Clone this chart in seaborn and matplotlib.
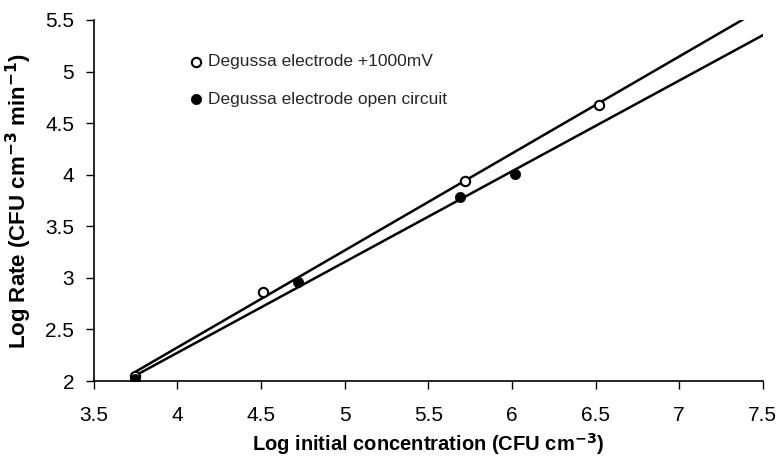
import numpy as np
import pandas as pd
import matplotlib
matplotlib.use("Agg")
import matplotlib.pyplot as plt
from matplotlib import font_manager
import seaborn as sns

# Data
x_open = [3.75, 4.51, 5.72, 6.52]
y_open = [2.05, 2.86, 3.94, 4.68]
x_filled = [3.75, 4.72, 5.69, 6.02]
y_filled = [2.02, 2.96, 3.78, 4.01]
label_open = "Degussa electrode +1000mV"
label_filled = "Degussa electrode open circuit"
x_ticks = [3.5, 4, 4.5, 5, 5.5, 6, 6.5, 7, 7.5]
y_ticks = [2, 2.5, 3, 3.5, 4, 4.5, 5, 5.5]

sns.set_theme(style="ticks")

# prefer a narrow sans if one is installed
names = {f.name for f in font_manager.fontManager.ttflist}
narrow = [n for n in ["Liberation Sans Narrow", "Arial Narrow", "DejaVu Sans Condensed"] if n in names]
fam = narrow + ['Liberation Sans', 'DejaVu Sans']
plt.rcParams['font.family'] = fam

df_open = pd.DataFrame({"x": x_open, "y": y_open})
df_filled = pd.DataFrame({"x": x_filled, "y": y_filled})

fig = plt.figure(figsize=(7.76, 4.63), dpi=100)
ax = fig.add_axes([0.1206, 0.177, 0.983 - 0.1206, 0.957 - 0.177])

# regression lines from the first point to the right edge
ax.set_xlim(min(x_open), 7.5)
sns.regplot(data=df_open, x="x", y="y", ax=ax, ci=None, scatter=False,
            truncate=False, line_kws=dict(color="black", lw=1.8))
sns.regplot(data=df_filled, x="x", y="y", ax=ax, ci=None, scatter=False,
            truncate=False, line_kws=dict(color="black", lw=1.8))

sns.scatterplot(data=df_open, x="x", y="y", ax=ax, marker="o", s=45,
                facecolor="white", edgecolor="black", linewidth=1.5,
                label=label_open, zorder=5)
sns.scatterplot(data=df_filled, x="x", y="y", ax=ax, marker="o", s=55,
                color="black", edgecolor="black", linewidth=0.5,
                label=label_filled, zorder=5)

ax.set_xlim(3.5, 7.5)
ax.set_ylim(2, 5.5)
ax.set_xticks(x_ticks)
ax.set_xticklabels([f"{t:g}" for t in x_ticks])
ax.set_yticks(y_ticks)
ax.set_yticklabels([f"{t:g}" for t in y_ticks])
ax.tick_params(axis="both", labelsize=15, length=6, width=1, color="black",
               labelcolor="black", direction="out")
ax.tick_params(axis="x", pad=12)
ax.tick_params(axis="y", pad=8)
for s in ["top", "right"]:
    ax.spines[s].set_visible(False)
for s in ["left", "bottom"]:
    ax.spines[s].set_color("black")
    ax.spines[s].set_linewidth(1.2)

ax.set_xlabel("Log initial concentration (CFU cm$^{\\mathbf{-3}}$)",
              fontsize=14.5, fontweight="bold", color="black", labelpad=4)
ax.set_ylabel("Log Rate (CFU cm$^{\\mathbf{-3}}$ min$^{\\mathbf{-1}}$)",
              fontsize=16, fontweight="bold", color="black", labelpad=8)

leg = ax.legend(loc="upper left", bbox_to_anchor=(0.13, 0.925), frameon=False,
                fontsize=12.5, labelspacing=1.3, handletextpad=0.2,
                handlelength=1.0, borderaxespad=0)

fig.savefig("out.png", dpi=100)
